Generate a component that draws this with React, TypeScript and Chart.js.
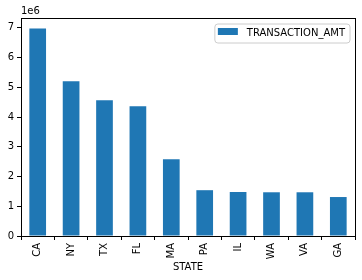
import React, { useEffect, useRef } from "react";
import { Chart, registerables } from "chart.js";

Chart.register(...registerables);

const states = ["CA", "NY", "TX", "FL", "MA", "PA", "IL", "WA", "VA", "GA"];
const transactionAmt = [6.98e6, 5.2e6, 4.56e6, 4.36e6, 2.58e6, 1.54e6, 1.48e6, 1.47e6, 1.47e6, 1.31e6];
const yTicks = [0, 1, 2, 3, 4, 5, 6, 7];
const seriesLabel = "TRANSACTION_AMT";
const xTitle = "STATE";
const offsetLabel = "1e6";

const FONT = "DejaVu Sans";
const BLUE = "#1f77b4";

const framePlugin = {
  id: "frame",
  afterDraw(chart: any) {
    const { ctx, chartArea } = chart;
    const { left, right, top, bottom } = chartArea;
    ctx.save();
    ctx.strokeStyle = "#000";
    ctx.lineWidth = 1;
    ctx.strokeRect(Math.round(left) + 0.5, Math.round(top) + 0.5, Math.round(right - left), Math.round(bottom - top));

    // offset label
    ctx.fillStyle = "#000";
    ctx.font = `10px "${FONT}"`;
    ctx.textAlign = "left";
    ctx.textBaseline = "bottom";
    ctx.fillText(offsetLabel, left, top - 2);

    // legend
    const label = chart.data.datasets[0].label as string;
    ctx.font = `10px "${FONT}"`;
    const tw = ctx.measureText(label).width;
    const boxRight = right - 5;
    const boxW = tw + 37;
    const boxLeft = boxRight - boxW;
    const boxTop = top + 6;
    const boxH = 19;
    ctx.beginPath();
    const r = 3;
    ctx.moveTo(boxLeft + r, boxTop);
    ctx.lineTo(boxRight - r, boxTop);
    ctx.quadraticCurveTo(boxRight, boxTop, boxRight, boxTop + r);
    ctx.lineTo(boxRight, boxTop + boxH - r);
    ctx.quadraticCurveTo(boxRight, boxTop + boxH, boxRight - r, boxTop + boxH);
    ctx.lineTo(boxLeft + r, boxTop + boxH);
    ctx.quadraticCurveTo(boxLeft, boxTop + boxH, boxLeft, boxTop + boxH - r);
    ctx.lineTo(boxLeft, boxTop + r);
    ctx.quadraticCurveTo(boxLeft, boxTop, boxLeft + r, boxTop);
    ctx.closePath();
    ctx.fillStyle = "rgba(255,255,255,0.8)";
    ctx.fill();
    ctx.strokeStyle = "#cccccc";
    ctx.stroke();
    ctx.fillStyle = chart.data.datasets[0].backgroundColor;
    ctx.fillRect(boxLeft + 3, boxTop + 4, 20, 7);
    ctx.fillStyle = "#000";
    ctx.textBaseline = "middle";
    ctx.fillText(label, boxLeft + 32, boxTop + 9);
    ctx.restore();
  },
};

export default function App() {
  const ref = useRef<HTMLCanvasElement | null>(null);
  useEffect(() => {
    document.body.style.margin = "0";
    const canvas = ref.current!;
    const yMax = Math.max(...transactionAmt) * 1.05;
    const chart = new Chart(canvas, {
      type: "bar",
      data: {
        labels: states,
        datasets: [
          {
            label: seriesLabel,
            data: transactionAmt,
            backgroundColor: BLUE,
            barPercentage: 0.5,
            categoryPercentage: 1,
          },
        ],
      },
      options: {
        animation: false,
        responsive: false,
        devicePixelRatio: 1,
        layout: { padding: { top: 18, right: 7, left: 0, bottom: 0 } },
        plugins: { legend: { display: false }, tooltip: { enabled: false } },
        scales: {
          x: {
            grid: { display: true, drawOnChartArea: false, tickLength: 4, color: "#000", tickColor: "#000" },
            border: { display: true, color: "#000" },
            ticks: {
              minRotation: 90,
              maxRotation: 90,
              padding: 3,
              color: "#000",
              font: { family: FONT, size: 10 },
            },
            title: {
              display: true,
              text: xTitle,
              color: "#000",
              font: { family: FONT, size: 10 },
              padding: { top: 0, bottom: 7 },
            },
            afterFit: (s: any) => {
              s.height = 44;
            },
          },
          y: {
            min: 0,
            max: yMax,
            grid: { display: true, drawOnChartArea: false, tickLength: 4, color: "#000", tickColor: "#000" },
            border: { display: true, color: "#000" },
            afterBuildTicks: (s: any) => {
              s.ticks = yTicks.map((v) => ({ value: v * 1e6 }));
            },
            ticks: {
              padding: 3,
              color: "#000",
              font: { family: FONT, size: 10 },
              callback: (v: any) => String(Math.round(Number(v) / 1e6)),
            },
            afterFit: (s: any) => {
              s.width = 21;
            },
          },
        },
      },
      plugins: [framePlugin],
    });
    return () => chart.destroy();
  }, []);
  return <canvas ref={ref} width={362} height={280} style={{ display: "block" }} />;
}
